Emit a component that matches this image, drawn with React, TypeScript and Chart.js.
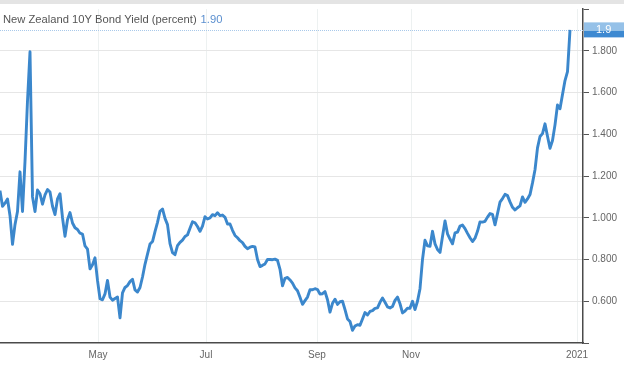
import { useEffect, useRef } from 'react';
import { Chart, registerables } from 'chart.js';

Chart.register(...registerables);

const seriesName = 'New Zealand 10Y Bond Yield (percent)';

// Daily yield readings, early March 2020 → 31 Dec 2020 (evenly spaced trading days)
const yields: number[] = [
  1.13, 1.055, 1.07, 1.09, 1.01, 0.873, 0.967, 1.03, 1.22, 1.03,
  1.27, 1.56, 1.795, 1.10, 1.03, 1.133, 1.115, 1.065, 1.11, 1.135,
  1.123, 1.055, 1.015, 1.09, 1.115, 1.0, 0.911, 0.99, 1.025, 0.975,
  0.952, 0.944, 0.926, 0.922, 0.865, 0.85, 0.755, 0.775, 0.808, 0.70,
  0.612, 0.607, 0.635, 0.70, 0.62, 0.605, 0.613, 0.62, 0.521, 0.64,
  0.666, 0.675, 0.694, 0.705, 0.654, 0.644, 0.666, 0.716, 0.777, 0.826,
  0.874, 0.886, 0.934, 0.978, 1.031, 1.042, 0.997, 0.967, 0.876, 0.833,
  0.823, 0.866, 0.882, 0.893, 0.91, 0.918, 0.95, 0.981, 0.976, 0.958,
  0.935, 0.96, 1.005, 0.994, 0.999, 1.015, 1.01, 1.024, 1.01, 1.013,
  1.002, 0.97, 0.97, 0.94, 0.915, 0.904, 0.89, 0.881, 0.863, 0.852,
  0.859, 0.863, 0.86, 0.80, 0.766, 0.772, 0.779, 0.80, 0.80, 0.799,
  0.802, 0.796, 0.753, 0.674, 0.71, 0.714, 0.702, 0.687, 0.664, 0.65,
  0.619, 0.585, 0.603, 0.62, 0.655, 0.655, 0.66, 0.656, 0.634, 0.636,
  0.646, 0.607, 0.548, 0.59, 0.61, 0.585, 0.598, 0.60, 0.56, 0.515,
  0.503, 0.461, 0.481, 0.488, 0.485, 0.515, 0.546, 0.534, 0.551, 0.555,
  0.566, 0.568, 0.595, 0.615, 0.595, 0.573, 0.568, 0.575, 0.604, 0.62,
  0.588, 0.544, 0.553, 0.567, 0.566, 0.60, 0.56, 0.60, 0.66, 0.80,
  0.892, 0.865, 0.863, 0.935, 0.875, 0.848, 0.834, 0.91, 0.985, 0.923,
  0.898, 0.875, 0.927, 0.931, 0.96, 0.965, 0.948, 0.925, 0.904, 0.886,
  0.902, 0.935, 0.98, 0.979, 0.983, 1.003, 1.02, 1.016, 0.966, 1.02,
  1.075, 1.092, 1.112, 1.106, 1.076, 1.05, 1.037, 1.048, 1.057, 1.10,
  1.074, 1.09, 1.111, 1.167, 1.23, 1.335, 1.389, 1.403, 1.45, 1.39,
  1.333, 1.37, 1.445, 1.54, 1.522, 1.59, 1.657, 1.70, 1.90,
];

// Month boundaries, expressed in the same trading-day index as the data
const monthLabels = ['May', 'Jul', 'Sep', 'Nov', '2021'];
const monthIndex = [39.2, 82.4, 126.8, 164.4, 230.8];
const xMaxIndex = 233.2;

const yMin = 0.4;
const yMax = 2.0;
const yStep = 0.2;

const FONT = '"Liberation Sans", Arial, sans-serif';

export default function App() {
  const ref = useRef<HTMLCanvasElement>(null);

  useEffect(() => {
    document.body.style.margin = '0';
    const last = yields[yields.length - 1];

    const decor = {
      id: 'decor',
      beforeDraw(chart: any) {
        const { ctx, width } = chart;
        ctx.save();
        ctx.fillStyle = '#ffffff';
        ctx.fillRect(0, 0, width, chart.height);
        ctx.fillStyle = '#e4e4e4';
        ctx.fillRect(0, 0, width, 4);
        ctx.restore();
      },
      beforeDatasetsDraw(chart: any) {
        const { ctx, chartArea } = chart;
        const y = Math.round(chart.scales.y.getPixelForValue(last)) + 0.5;
        ctx.save();
        ctx.strokeStyle = '#a9c9ea';
        ctx.lineWidth = 1;
        ctx.setLineDash([1, 1]);
        ctx.beginPath();
        ctx.moveTo(chartArea.left, y);
        ctx.lineTo(chartArea.right, y);
        ctx.stroke();
        ctx.restore();
      },
      afterDraw(chart: any) {
        const { ctx, chartArea, width } = chart;
        const y = chart.scales.y.getPixelForValue(last);
        ctx.save();
        // value box on the axis
        const bx = chartArea.right + 1;
        const by = y - 7.5;
        ctx.fillStyle = '#95c1e8';
        ctx.fillRect(bx, by, width - bx, 8.5);
        ctx.fillStyle = '#3d89d1';
        ctx.fillRect(bx, by + 8.5, width - bx, 6.5);
        ctx.fillStyle = '#ffffff';
        ctx.font = `11px ${FONT}`;
        ctx.textBaseline = 'middle';
        ctx.fillText(last.toFixed(1), 596, y);
        // title
        ctx.font = `11.2px ${FONT}`;
        ctx.textBaseline = 'alphabetic';
        ctx.fillStyle = '#555555';
        ctx.fillText(seriesName, 3, 22.5);
        const w = ctx.measureText(seriesName).width;
        ctx.fillStyle = '#5b8fcf';
        ctx.fillText(last.toFixed(2), 3 + w + 4, 22.5);
        ctx.restore();
      },
    };

    const chart = new Chart(ref.current!, {
      type: 'line',
      data: {
        datasets: [
          {
            label: seriesName,
            data: yields.map((v, i) => ({ x: i, y: v })),
            borderColor: '#3b87cc',
            borderWidth: 2.9,
            pointRadius: 0,
            tension: 0,
            borderJoinStyle: 'round',
            fill: false,
          },
        ],
      },
      options: {
        animation: false,
        responsive: false,
        layout: { padding: { top: 5, left: 0, right: 0, bottom: 0 } },
        plugins: {
          legend: { display: false },
          tooltip: { enabled: false },
          title: { display: false },
        },
        scales: {
          x: {
            type: 'linear',
            min: 0,
            max: xMaxIndex,
            afterBuildTicks: (s: any) => {
              s.ticks = monthIndex.map((v) => ({ value: v }));
            },
            afterFit: (s: any) => {
              s.height = 22;
            },
            ticks: {
              autoSkip: false,
              maxRotation: 0,
              padding: 6,
              color: '#666666',
              font: { family: FONT, size: 10 },
              callback: (_v: any, i: number) => monthLabels[i],
            },
            grid: { color: '#edf1f1', drawTicks: false, lineWidth: 1 },
            border: { display: true, color: '#4a4a4a', width: 1.5 },
          },
          y: {
            type: 'linear',
            position: 'right',
            min: yMin,
            max: yMax,
            afterFit: (s: any) => {
              s.width = 41;
            },
            ticks: {
              stepSize: yStep,
              padding: 3,
              color: '#666666',
              font: { family: FONT, size: 10 },
              callback: (v: any) => {
                const n = Number(v);
                return n > yMin + 0.05 && n < yMax - 0.05 ? n.toFixed(3) : '';
              },
            },
            grid: {
              color: (c: any) => {
                const n = c.tick ? c.tick.value : 0;
                return n > yMin + 0.05 && n < yMax - 0.05 ? '#e6e6e6' : 'rgba(0,0,0,0)';
              },
              tickColor: '#555555',
              tickLength: 6,
              lineWidth: 1,
            },
            border: { display: true, color: '#4a4a4a', width: 1.5 },
          },
        },
      },
      plugins: [decor],
    } as any);

    return () => chart.destroy();
  }, []);

  return (
    <div style={{ width: 624, height: 365 }}>
      <canvas ref={ref} width={624} height={365} style={{ display: 'block' }} />
    </div>
  );
}
